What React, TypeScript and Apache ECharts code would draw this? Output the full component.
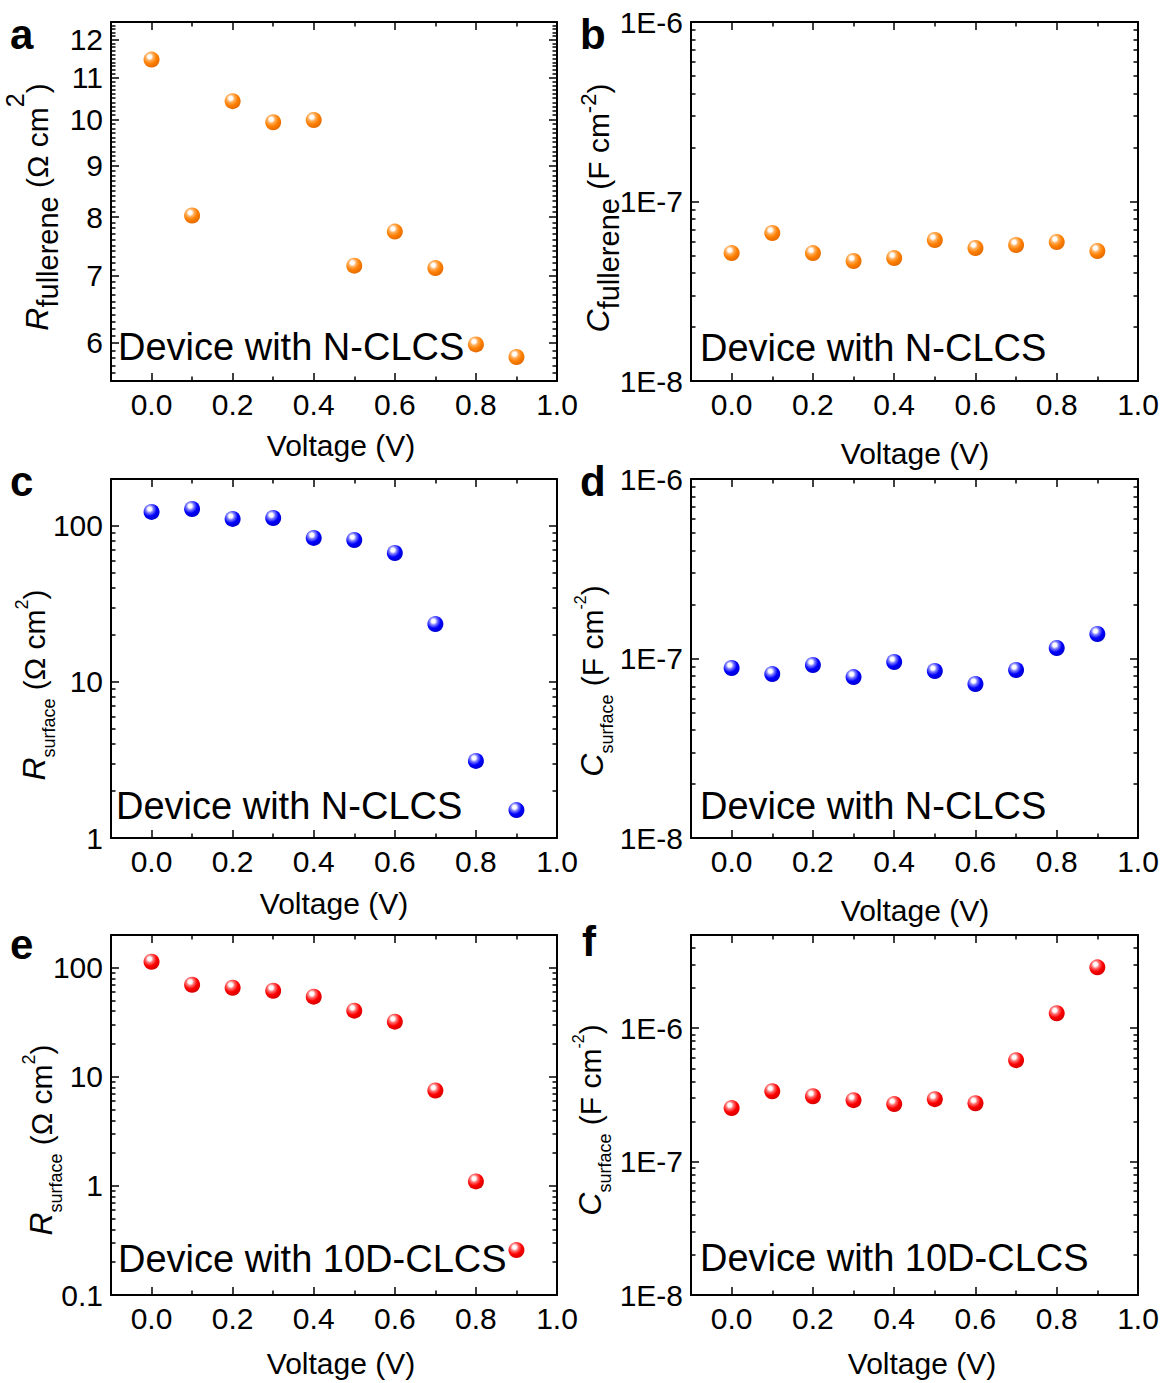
import React, { useEffect, useRef } from 'react';
import * as echarts from 'echarts';

const FONT = '"Liberation Sans", Arial, Helvetica, sans-serif';

// ---- data ----
const voltage = [0, 0.1, 0.2, 0.3, 0.4, 0.5, 0.6, 0.7, 0.8, 0.9];
const rFullereneN = [11.47, 8.03, 10.43, 9.94, 9.99, 7.16, 7.74, 7.12, 5.98, 5.81];
const cFullereneN = [5.16e-8, 6.68e-8, 5.16e-8, 4.66e-8, 4.84e-8, 6.1e-8, 5.51e-8, 5.72e-8, 5.95e-8, 5.3e-8];
const rSurfaceN = [123, 128.5, 111, 112.5, 83.8, 81.3, 67.1, 23.5, 3.12, 1.51];
const cSurfaceN = [8.85e-8, 8.19e-8, 9.2e-8, 7.88e-8, 9.56e-8, 8.52e-8, 7.21e-8, 8.63e-8, 1.144e-7, 1.37e-7];
const rSurface10D = [113.7, 70, 65.7, 61.7, 54.4, 40.5, 32.1, 7.5, 1.1, 0.258];
const cSurface10D = [2.52e-7, 3.37e-7, 3.09e-7, 2.89e-7, 2.7e-7, 2.94e-7, 2.74e-7, 5.76e-7, 1.295e-6, 2.86e-6];

// ---- tick values ----
const xMajorTicks = [0, 0.2, 0.4, 0.6, 0.8, 1.0];
const xMinorTicks = [0.1, 0.3, 0.5, 0.7, 0.9];
const aMajorTicks = [6, 7, 8, 9, 10, 11, 12];
const cfMajorTicks = [1e-8, 1e-7, 1e-6];
const rsNMajorTicks = [1, 10, 100];
const rs10DMajorTicks = [0.1, 1, 10, 100];

function linearMinors(from: number, to: number, step: number): number[] {
  const out: number[] = [];
  const n = Math.round((to - from) / step);
  for (let k = 0; k <= n; k++) {
    const v = Math.round((from + k * step) * 10) / 10;
    if (Math.abs(v - Math.round(v)) > 1e-9) out.push(v);
  }
  return out;
}
function decadeMinors(e0: number, e1: number, max: number): number[] {
  const out: number[] = [];
  for (let e = e0; e <= e1; e++) {
    for (let m = 2; m <= 9; m++) {
      const v = parseFloat((m * Math.pow(10, e)).toPrecision(6));
      if (v <= max * 1.0000001) out.push(v);
    }
  }
  return out;
}

const aMinorTicks = linearMinors(5.6, 12.4, 0.1);
const cfMinorTicks = decadeMinors(-8, -7, 1e-6);
const rsNMinorTicks = decadeMinors(0, 2, 200);
const rs10DMinorTicks = decadeMinors(-1, 2, 200);
const cs10DMinorTicks = decadeMinors(-8, -6, 5e-6);

function sphere(base: string, light: string, dark: string) {
  return {
    type: 'radial',
    x: 0.38,
    y: 0.32,
    r: 0.72,
    colorStops: [
      { offset: 0, color: '#ffffff' },
      { offset: 0.16, color: '#ffffff' },
      { offset: 0.34, color: light },
      { offset: 0.62, color: base },
      { offset: 1, color: dark },
    ],
  };
}

const ORANGE = sphere('#ff7f00', '#ffae5c', '#e06800');
const BLUE = sphere('#0000ff', '#7a7aff', '#0000c8');
const RED = sphere('#ff0000', '#ff7070', '#d00000');

const fmtPlain = (v: number) => String(v);
const fmtE = (v: number) => '1E' + Math.round(Math.log10(v));

const panels = [
  {
    letter: 'a', lx: 10, ly: 34, left: 111, top: 22, width: 446, height: 359,
    values: rFullereneN, fill: ORANGE, yMin: 5.5, yMax: 12.5, yMajor: aMajorTicks, yMinor: aMinorTicks, fmt: fmtPlain,
    device: 'Device with N-CLCS', dx: 118, dy: 347,
    yt: { x: 37, y: 207, sym: 'R', sub: 'fullerene', subSize: 29, subPad: 22, unit: 'Ω cm', sup: '2', supSize: 25, supPad: 44 },
    xt: { x: 341, y: 445 },
  },
  {
    letter: 'b', lx: 580, ly: 34, left: 691, top: 22, width: 447, height: 359,
    values: cFullereneN, fill: ORANGE, yMin: 1e-8, yMax: 1e-6, yMajor: cfMajorTicks, yMinor: cfMinorTicks, fmt: fmtE,
    device: 'Device with N-CLCS', dx: 700, dy: 348,
    yt: { x: 598, y: 208, sym: 'C', sub: 'fullerene', subSize: 29, subPad: 22, unit: 'F cm', sup: '-2', supSize: 22, supPad: 20 },
    xt: { x: 915, y: 453 },
  },
  {
    letter: 'c', lx: 10, ly: 481, left: 111, top: 479, width: 446, height: 359,
    values: rSurfaceN, fill: BLUE, yMin: 1, yMax: 200, yMajor: rsNMajorTicks, yMinor: rsNMinorTicks, fmt: fmtPlain,
    device: 'Device with N-CLCS', dx: 116, dy: 806,
    yt: { x: 34, y: 685, sym: 'R', sub: 'surface', subSize: 18, subPad: 30, unit: 'Ω cm', sup: '2', supSize: 18, supPad: 24 },
    xt: { x: 334, y: 903 },
  },
  {
    letter: 'd', lx: 580, ly: 481, left: 691, top: 479, width: 447, height: 359,
    values: cSurfaceN, fill: BLUE, yMin: 1e-8, yMax: 1e-6, yMajor: cfMajorTicks, yMinor: cfMinorTicks, fmt: fmtE,
    device: 'Device with N-CLCS', dx: 700, dy: 806,
    yt: { x: 592, y: 681, sym: 'C', sub: 'surface', subSize: 18, subPad: 30, unit: 'F cm', sup: '-2', supSize: 16, supPad: 24 },
    xt: { x: 915, y: 910 },
  },
  {
    letter: 'e', lx: 10, ly: 944, left: 111, top: 935, width: 446, height: 360,
    values: rSurface10D, fill: RED, yMin: 0.1, yMax: 200, yMajor: rs10DMajorTicks, yMinor: rs10DMinorTicks, fmt: fmtPlain,
    device: 'Device with 10D-CLCS', dx: 118, dy: 1259,
    yt: { x: 41, y: 1140, sym: 'R', sub: 'surface', subSize: 18, subPad: 30, unit: 'Ω cm', sup: '2', supSize: 18, supPad: 24 },
    xt: { x: 341, y: 1363 },
  },
  {
    letter: 'f', lx: 582, ly: 941, left: 691, top: 935, width: 447, height: 360,
    values: cSurface10D, fill: RED, yMin: 1e-8, yMax: 5e-6, yMajor: cfMajorTicks, yMinor: cs10DMinorTicks, fmt: fmtE,
    device: 'Device with 10D-CLCS', dx: 700, dy: 1258,
    yt: { x: 590, y: 1120, sym: 'C', sub: 'surface', subSize: 18, subPad: 30, unit: 'F cm', sup: '-2', supSize: 16, supPad: 24 },
    xt: { x: 922, y: 1363 },
  },
];

function tick(values: number[], length: number) {
  return { show: true, inside: true, length, customValues: values, lineStyle: { color: '#000', width: 1.5 } };
}

function buildOption() {
  const grid: any[] = [];
  const xAxis: any[] = [];
  const yAxis: any[] = [];
  const series: any[] = [];
  const graphic: any[] = [];
  const labelStyle = { color: '#000', fontSize: 30, fontFamily: FONT };

  panels.forEach((p, i) => {
    grid.push({ left: p.left, top: p.top, width: p.width, height: p.height, containLabel: false, outerBoundsMode: 'none' });
    const line = (show: boolean) => ({ show, onZero: false, lineStyle: { color: '#000', width: 2 } });
    const xb = { type: 'value', gridIndex: i, min: -0.1, max: 1.0, splitLine: { show: false } };
    xAxis.push({ ...xb, position: 'bottom', axisLine: line(true), axisTick: tick(xMajorTicks, 8),
      axisLabel: { show: true, customValues: xMajorTicks, formatter: (v: number) => v.toFixed(1), margin: 8, ...labelStyle } });
    xAxis.push({ ...xb, position: 'bottom', axisLine: line(false), axisTick: tick(xMinorTicks, 4.5), axisLabel: { show: false } });
    xAxis.push({ ...xb, position: 'top', axisLine: line(true), axisTick: tick(xMajorTicks, 8), axisLabel: { show: false } });
    xAxis.push({ ...xb, position: 'top', axisLine: line(false), axisTick: tick(xMinorTicks, 4.5), axisLabel: { show: false } });

    const yb = { type: 'log', logBase: 10, gridIndex: i, min: p.yMin, max: p.yMax, splitLine: { show: false }, minorTick: { show: false } };
    yAxis.push({ ...yb, position: 'left', axisLine: line(true), axisTick: tick(p.yMajor, 8),
      axisLabel: { show: true, customValues: p.yMajor, formatter: p.fmt, margin: 8, ...labelStyle } });
    yAxis.push({ ...yb, position: 'left', axisLine: line(false), axisTick: tick(p.yMinor, 4.5), axisLabel: { show: false } });
    yAxis.push({ ...yb, position: 'right', axisLine: line(true), axisTick: tick(p.yMajor, 8), axisLabel: { show: false } });
    yAxis.push({ ...yb, position: 'right', axisLine: line(false), axisTick: tick(p.yMinor, 4.5), axisLabel: { show: false } });

    series.push({
      type: 'scatter', xAxisIndex: 4 * i, yAxisIndex: 4 * i,
      data: voltage.map((v, j) => [v, p.values[j]]),
      symbol: 'circle', symbolSize: 16, itemStyle: { color: p.fill, opacity: 1 }, clip: false, silent: true, z: 5,
    });

    graphic.push({ type: 'text', x: p.lx, y: p.ly, style: { text: p.letter, fontSize: 42, fontWeight: 'bold', fontFamily: FONT, fill: '#000', align: 'left', verticalAlign: 'middle' } });
    graphic.push({ type: 'text', x: p.dx, y: p.dy, z: 10, style: { text: p.device, fontSize: 38, fontFamily: FONT, fill: '#000', align: 'left', verticalAlign: 'middle' } });
    graphic.push({ type: 'text', x: p.xt.x, y: p.xt.y, style: { text: 'Voltage (V)', fontSize: 30, fontFamily: FONT, fill: '#000', align: 'center', verticalAlign: 'middle' } });

    const t = p.yt;
    graphic.push({
      type: 'text', x: t.x, y: t.y, rotation: Math.PI / 2,
      style: {
        text: `{i|${t.sym}}{s|${t.sub}}{n| (${t.unit}}{p|${t.sup}}{n|)}`,
        align: 'center', verticalAlign: 'middle', fill: '#000', fontFamily: FONT, fontSize: 30,
        rich: {
          i: { fontSize: 32, fontStyle: 'italic', fontFamily: FONT, fill: '#000', verticalAlign: 'middle' },
          s: { fontSize: t.subSize, fontFamily: FONT, fill: '#000', verticalAlign: 'middle', padding: [t.subPad, 0, 0, 0] },
          n: { fontSize: 30, fontFamily: FONT, fill: '#000', verticalAlign: 'middle' },
          p: { fontSize: t.supSize, fontFamily: FONT, fill: '#000', verticalAlign: 'middle', padding: [0, 0, t.supPad, 0] },
        },
      },
    });
  });

  return {
    animation: false,
    backgroundColor: '#ffffff',
    grid, xAxis, yAxis, series, graphic,
  };
}

export default function App() {
  const ref = useRef<HTMLDivElement>(null);
  useEffect(() => {
    const chart = echarts.init(ref.current!, null, { renderer: 'svg' });
    chart.setOption(buildOption() as any);
    return () => chart.dispose();
  }, []);
  return <div ref={ref} style={{ position: 'absolute', left: 0, top: 0, width: 1163, height: 1383, background: '#fff' }} />;
}
